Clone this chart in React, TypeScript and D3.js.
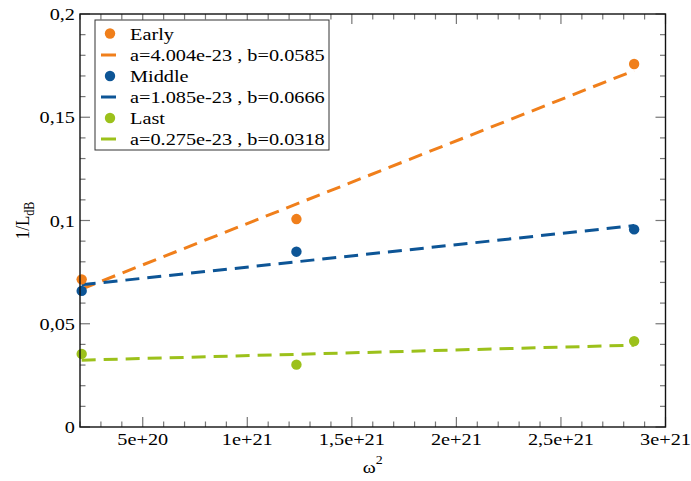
import React from "react";
import * as d3 from "d3";

const seriesNames = ["Early", "Middle", "Last"];
const seriesColors = ["#f07f1b", "#0d5596", "#9cc11b"];
const xValues = [2.08e20, 1.235e21, 2.85e21];
const earlyY = [0.0715, 0.1007, 0.1758];
const middleY = [0.0659, 0.0849, 0.0957];
const lastY = [0.0354, 0.0302, 0.0416];
const fitA = [4.004e-23, 1.085e-23, 0.275e-23];
const fitB = [0.0585, 0.0666, 0.0318];
const fitLabels = ["a=4.004e-23 , b=0.0585", "a=1.085e-23 , b=0.0666", "a=0.275e-23 , b=0.0318"];
const xMajorTicks = [5e20, 1e21, 1.5e21, 2e21, 2.5e21, 3e21];
const xTickLabels = ["5e+20", "1e+21", "1,5e+21", "2e+21", "2,5e+21", "3e+21"];
const yMajorTicks = [0, 0.05, 0.1, 0.15, 0.2];
const yTickLabels = ["0", "0,05", "0,1", "0,15", "0,2"];

const W = 691, H = 481;
const L = 80, R = 665.5, T = 14, B = 427;
const SX = 1.16;
const FONT = "Liberation Serif, Times New Roman, serif";

function SText({ x, y, anchor = "start", size = 17, children, fill = "#000" }: any) {
  return (
    <g transform={`translate(${x},${y}) scale(${SX},1)`}>
      <text textAnchor={anchor} style={{ fontFamily: FONT }} fontSize={size} fill={fill}>{children}</text>
    </g>
  );
}

export default function App() {
  const x = d3.scaleLinear().domain([2e20, 3e21]).range([L, R]);
  const y = d3.scaleLinear().domain([0, 0.2]).range([B, T]);
  const allY = [earlyY, middleY, lastY];

  const xMinor = d3.range(2e20, 3e21 + 1e19, 1e20).filter((v) => !xMajorTicks.some((m) => Math.abs(m - v) < 1e18));
  const yMinor = d3.range(0, 0.2001, 0.01).filter((v) => !yMajorTicks.some((m) => Math.abs(m - v) < 1e-6));

  const x0 = d3.min(xValues)!, x1 = d3.max(xValues)!;

  const tickColor = "#777";
  const legendRows = [33.5, 55, 76, 97, 118, 139];

  return (
    <svg width={W} height={H} style={{ position: "absolute", left: 0, top: 0, background: "#fff" }}>
      <rect x={0} y={0} width={W} height={H} fill="#fff" />
      <g stroke={tickColor} strokeWidth={1.2}>
        {xMajorTicks.map((v, i) => (
          <g key={"xm" + i}>
            <line x1={x(v)} x2={x(v)} y1={B} y2={B - 10} />
            <line x1={x(v)} x2={x(v)} y1={T} y2={T + 10} />
          </g>
        ))}
        {xMinor.map((v, i) => (
          <g key={"xn" + i}>
            <line x1={x(v)} x2={x(v)} y1={B} y2={B - 5.5} />
            <line x1={x(v)} x2={x(v)} y1={T} y2={T + 5.5} />
          </g>
        ))}
        {yMajorTicks.map((v, i) => (
          <g key={"ym" + i}>
            <line x1={L} x2={L + 10} y1={y(v)} y2={y(v)} />
            <line x1={R} x2={R - 10} y1={y(v)} y2={y(v)} />
          </g>
        ))}
        {yMinor.map((v, i) => (
          <g key={"yn" + i}>
            <line x1={L} x2={L + 5.5} y1={y(v)} y2={y(v)} />
            <line x1={R} x2={R - 5.5} y1={y(v)} y2={y(v)} />
          </g>
        ))}
      </g>
      {fitA.map((a, i) => {
        const pts: [number, number][] = [x0, x1].map((v) => [x(v), y(a * v + fitB[i])]);
        return (
          <path key={"fit" + i} d={d3.line()(pts)!} stroke={seriesColors[i]} strokeWidth={3} strokeDasharray="14 8" fill="none" />
        );
      })}
      {allY.map((ys, si) =>
        ys.map((v, i) => <circle key={si + "-" + i} cx={x(xValues[i])} cy={y(v)} r={5.2} fill={seriesColors[si]} />)
      )}
      <rect x={L} y={T} width={R - L} height={B - T} fill="none" stroke="#111" strokeWidth={1.4} />
      {xMajorTicks.map((v, i) => (
        <SText key={"xl" + i} x={x(v)} y={445} anchor="middle" size={17.5}>{xTickLabels[i]}</SText>
      ))}
      {yMajorTicks.map((v, i) => (
        <SText key={"yl" + i} x={75} y={y(v) + 6} anchor="end" size={17.5}>{yTickLabels[i]}</SText>
      ))}
      <g transform={`translate(${(L + R) / 2},473) scale(${SX},1)`}>
        <text textAnchor="middle" style={{ fontFamily: FONT }} fontSize={17}>
          ω<tspan fontSize={12} dy={-9}>2</tspan>
        </text>
      </g>
      <g transform={`translate(29,${(T + B) / 2}) rotate(-90) scale(1,${SX})`}>
        <text textAnchor="middle" style={{ fontFamily: FONT }} fontSize={17}>
          1/L<tspan fontSize={12} dy={4}>dB</tspan>
        </text>
      </g>
      <rect x={95} y={20} width={234} height={130} fill="#fff" stroke="#333" strokeWidth={1} />
      {seriesNames.map((name, i) => {
        const r1 = legendRows[i * 2], r2 = legendRows[i * 2 + 1];
        return (
          <g key={"lg" + i}>
            <circle cx={110} cy={r1} r={5.2} fill={seriesColors[i]} />
            <SText x={130} y={r1 + 6} size={17.5}>{name}</SText>
            <line x1={101} x2={116} y1={r2} y2={r2} stroke={seriesColors[i]} strokeWidth={3} />
            <SText x={130} y={r2 + 6} size={17.5}>{fitLabels[i]}</SText>
          </g>
        );
      })}
    </svg>
  );
}
